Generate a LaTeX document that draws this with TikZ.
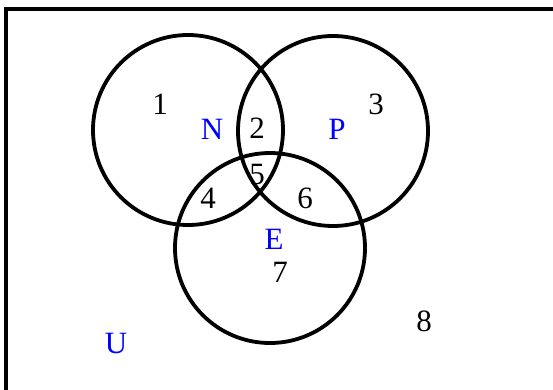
\documentclass[tikz,border=0pt]{standalone}
\usepackage{fontspec}
\setmainfont{Liberation Serif}
\usetikzlibrary{positioning}
\tikzset{
  setcirc/.style={draw, circle, line width=3.8pt, minimum size=190pt, inner sep=0pt},
  region/.style={font=\fontsize{31}{35}\selectfont, inner sep=0pt},
  setname/.style={region, text=blue}
}

\begin{document}
\begin{tikzpicture}[x=1pt, y=-1pt]
\useasboundingbox (0,0) rectangle (553,389);
\clip (0,0) rectangle (553,389);
\draw[line width=4pt] (6,8.5) rectangle (600,420);
% the three sets
\node[setcirc] (cN) at (188,130) {};
\node[setcirc] (cP) at (333,131) {};
\node[setcirc] (cE) at (270,248) {};
% set names
\node[setname] (N) at (212,129) {N};
\node[setname] (P) at (337,129) {P};
\node[setname] (E) at (274,239) {E};
\node[setname] (U) at (116,343) {U};
% region numbers
\node[region] (r1) at (160,104) {1};
\node[region] (r2) at (257,128) {2};
\node[region] (r3) at (376,104) {3};
\node[region] (r4) at (208,198) {4};
\node[region] (r5) at (257,174) {5};
\node[region] (r6) at (305,198) {6};
\node[region] (r7) at (280,272) {7};
\node[region] (r8) at (424,321) {8};
\end{tikzpicture}
\end{document}
